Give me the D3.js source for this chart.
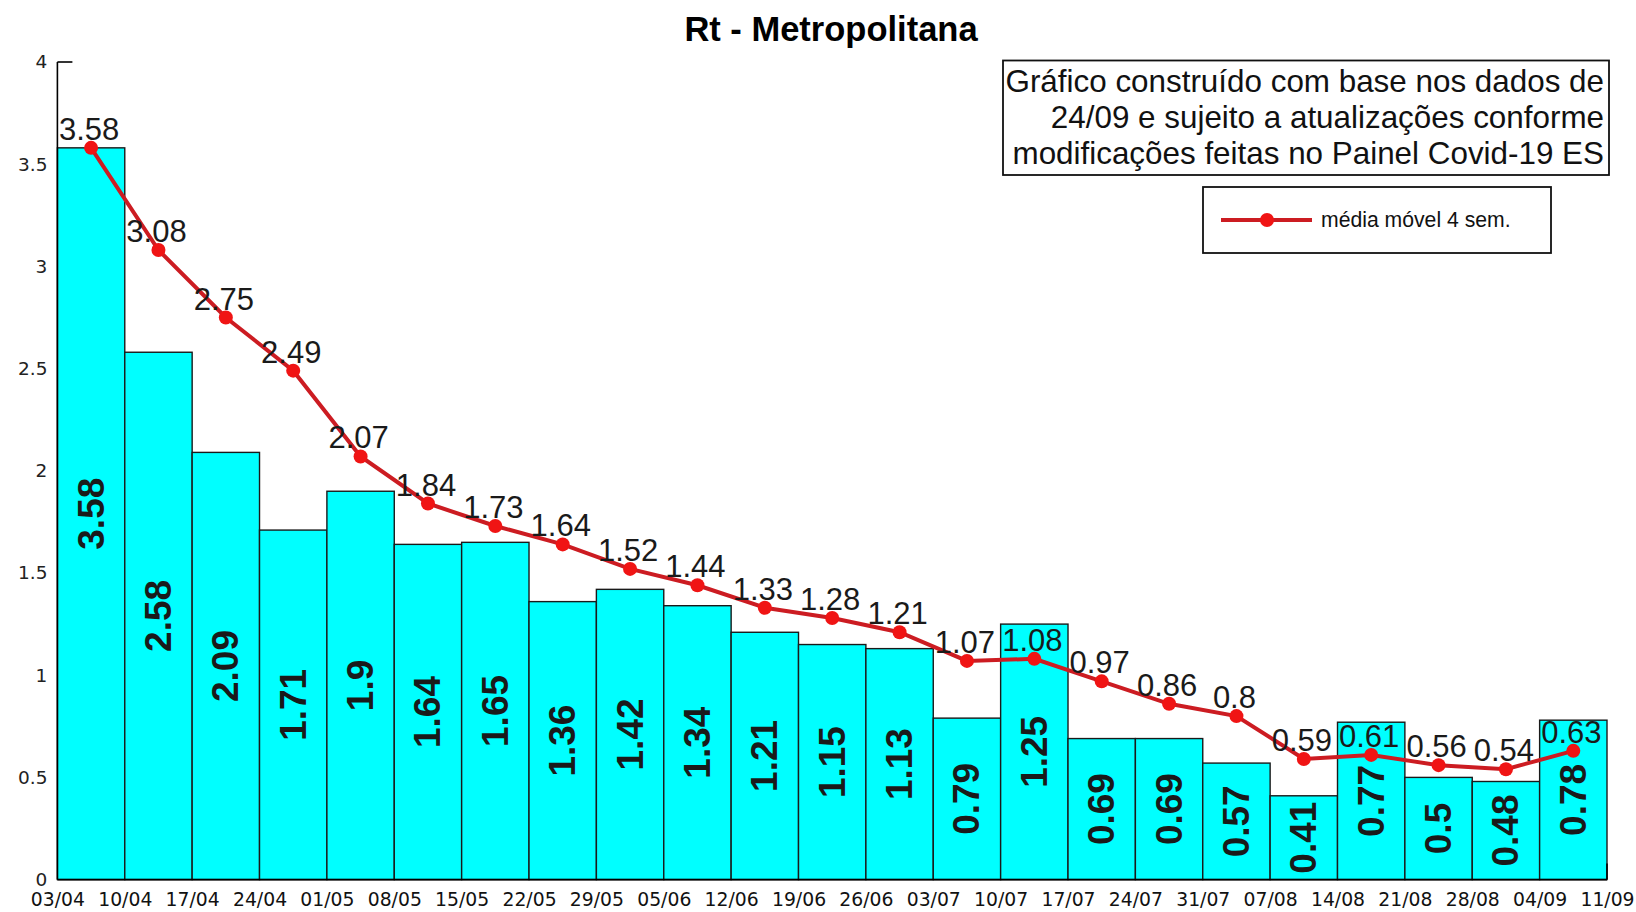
<!DOCTYPE html>
<html>
<head>
<meta charset="utf-8">
<script src="https://cdn.jsdelivr.net/npm/d3@7"></script>
<style>
  html, body { margin: 0; padding: 0; background: #fff; }
  svg { display: block; }
</style>
</head>
<body>
<svg id="chart" width="1636" height="912"></svg>
<script>
// ---- Data ----
const weekLabels = ["03/04","10/04","17/04","24/04","01/05","08/05","15/05","22/05","29/05","05/06","12/06","19/06","26/06","03/07","10/07","17/07","24/07","31/07","07/08","14/08","21/08","28/08","04/09","11/09"];
const rtValues = [3.58,2.58,2.09,1.71,1.9,1.64,1.65,1.36,1.42,1.34,1.21,1.15,1.13,0.79,1.25,0.69,0.69,0.57,0.41,0.77,0.5,0.48,0.78];
const movingAvg = [3.58,3.08,2.75,2.49,2.07,1.84,1.73,1.64,1.52,1.44,1.33,1.28,1.21,1.07,1.08,0.97,0.86,0.8,0.59,0.61,0.56,0.54,0.63];
const yTickValues = [0,0.5,1,1.5,2,2.5,3,3.5,4];
const titleText = "Rt - Metropolitana";
const noteLines = ["Gráfico construído com base nos dados de","24/09 e sujeito a atualizações conforme","modificações feitas no Painel Covid-19 ES"];
const legendLabel = "média móvel 4 sem.";

(function () {
// ---- Layout ----
const svg = d3.select("#chart");
const plotLeft = 57.4, plotRight = 1607, plotTop = 62, plotBottom = 879.6;
const barWeeks = weekLabels.slice(0, rtValues.length);

const x = d3.scaleBand().domain(barWeeks).range([plotLeft, plotRight]).paddingInner(0).paddingOuter(0);
const xTick = d3.scalePoint().domain(weekLabels).range([plotLeft, plotRight]);
const y = d3.scaleLinear().domain([0, 4]).range([plotBottom, plotTop]);

const sans = "'Liberation Sans', Arial, sans-serif";
const tickFont = "'DejaVu Sans', sans-serif";

// Title
svg.append("text")
  .attr("x", 831).attr("y", 41)
  .attr("text-anchor", "middle")
  .attr("font-family", sans).attr("font-weight", "bold").attr("font-size", 34.5)
  .text(titleText);

// Bars
svg.append("g").selectAll("rect").data(rtValues).join("rect")
  .attr("x", (d, i) => x(barWeeks[i]))
  .attr("y", d => y(d))
  .attr("width", x.bandwidth())
  .attr("height", d => plotBottom - y(d))
  .attr("fill", "#00ffff")
  .attr("stroke", "#1a1a1a")
  .attr("stroke-width", 1.4);

// Bar value labels (rotated)
svg.append("g").selectAll("text").data(rtValues).join("text")
  .attr("transform", (d, i) => {
    const cx = x(barWeeks[i]) + x.bandwidth() / 2;
    const cy = (y(d) + plotBottom) / 2;
    return `translate(${cx},${cy}) rotate(-90)`;
  })
  .attr("text-anchor", "middle")
  .attr("dominant-baseline", "central")
  .attr("font-family", sans).attr("font-weight", "bold").attr("font-size", 37)
  .attr("fill", "#1a1a1a")
  .text(d => String(d));

// Axes lines
const axisG = svg.append("g").attr("stroke", "#000").attr("stroke-width", 1.6);
axisG.append("line").attr("x1", plotLeft).attr("x2", plotLeft).attr("y1", y(4)).attr("y2", plotBottom);
axisG.append("line").attr("x1", plotLeft).attr("x2", plotLeft + 15).attr("y1", y(4)).attr("y2", y(4));
axisG.append("line").attr("x1", plotLeft).attr("x2", plotRight).attr("y1", plotBottom).attr("y2", plotBottom);
axisG.append("line").attr("x1", plotRight).attr("x2", plotRight).attr("y1", plotBottom).attr("y2", plotBottom - 16);

// Y axis labels
const yAxis = d3.axisLeft(y).tickValues(yTickValues).tickSize(0).tickPadding(10)
  .tickFormat(d => String(d));
const yG = svg.append("g").attr("transform", `translate(${plotLeft},0)`).call(yAxis);
yG.select(".domain").remove();
yG.selectAll("text").attr("font-family", tickFont).attr("font-size", 18.5).attr("fill", "#222");

// X axis labels
const xAxis = d3.axisBottom(xTick).tickSize(0).tickPadding(13);
const xG = svg.append("g").attr("transform", `translate(0,${plotBottom})`).call(xAxis);
xG.select(".domain").remove();
xG.selectAll("text").attr("font-family", tickFont).attr("font-size", 18.8).attr("fill", "#111");

// Moving average line
const cxOf = (i) => x(barWeeks[i]) + x.bandwidth() / 2;
const line = d3.line().x((d, i) => cxOf(i)).y(d => y(d));
svg.append("path").datum(movingAvg)
  .attr("d", line)
  .attr("fill", "none")
  .attr("stroke", "#cc1c22")
  .attr("stroke-width", 4);
svg.append("g").selectAll("circle").data(movingAvg).join("circle")
  .attr("cx", (d, i) => cxOf(i)).attr("cy", d => y(d)).attr("r", 7)
  .attr("fill", "#f01414");

// Line value labels
svg.append("g").selectAll("text").data(movingAvg).join("text")
  .attr("x", (d, i) => cxOf(i) - 2)
  .attr("y", d => y(d) - 8)
  .attr("text-anchor", "middle")
  .attr("font-family", sans).attr("font-size", 31)
  .attr("fill", "#1a1a1a")
  .text(d => String(d));

// Note box
svg.append("rect").attr("x", 1003).attr("y", 60.5).attr("width", 606).attr("height", 114.5)
  .attr("fill", "#fff").attr("stroke", "#111").attr("stroke-width", 1.8);
svg.append("g").selectAll("text").data(noteLines).join("text")
  .attr("x", 1604).attr("y", (d, i) => 92 + i * 36)
  .attr("text-anchor", "end")
  .attr("font-family", sans).attr("font-size", 31.4).attr("fill", "#111")
  .text(d => d);

// Legend
const lg = svg.append("g");
lg.append("rect").attr("x", 1203).attr("y", 187).attr("width", 348).attr("height", 66)
  .attr("fill", "#fff").attr("stroke", "#111").attr("stroke-width", 1.8);
lg.append("line").attr("x1", 1221).attr("x2", 1312).attr("y1", 220).attr("y2", 220)
  .attr("stroke", "#cc1c22").attr("stroke-width", 4);
lg.append("circle").attr("cx", 1267).attr("cy", 220).attr("r", 7).attr("fill", "#f01414");
lg.append("text").attr("x", 1321).attr("y", 227)
  .attr("font-family", sans).attr("font-size", 21.2).attr("fill", "#111")
  .text(legendLabel);
})();
</script>
</body>
</html>
